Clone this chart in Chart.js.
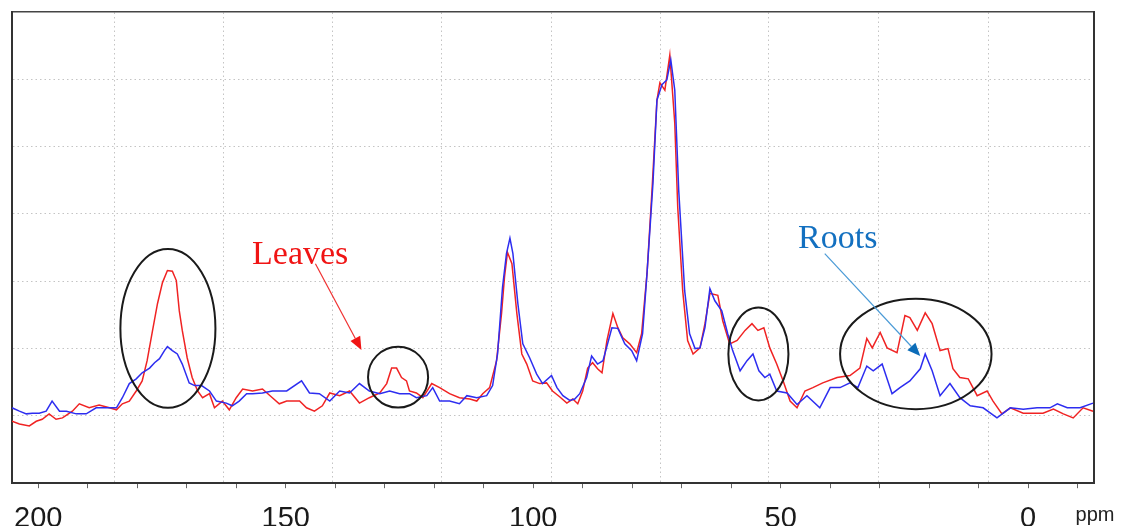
<!DOCTYPE html>
<html>
<head>
<meta charset="utf-8">
<script src="https://cdn.jsdelivr.net/npm/chart.js@4.4.0/dist/chart.umd.min.js"></script>
<style>
  html, body { margin: 0; padding: 0; background: #fff; overflow: hidden; }
  #wrap { width: 1121px; height: 549px; }
</style>
</head>
<body>
<div id="wrap"><canvas id="nmr"></canvas></div>
<script>
// 13C NMR spectra, chemical shift (ppm) and intensity
var leavesPpm = [
  205.3,203.8,201.8,200.4,199.2,197.8,196.4,195.1,193.1,191.7,
  189.7,187.7,185.6,184.2,183.0,181.6,180.2,179.0,178.0,176.9,
  175.9,174.9,173.9,172.9,172.1,171.5,170.9,169.9,168.9,167.8,
  166.8,165.4,164.4,162.8,161.4,160.0,158.7,156.7,154.7,152.7,
  151.3,149.8,147.2,145.8,144.2,142.6,141.1,139.1,137.1,135.1,
  133.1,131.0,129.6,128.6,127.6,126.6,125.6,125.0,123.6,122.3,
  120.5,118.9,116.9,114.9,112.8,111.4,110.2,108.8,107.4,106.4,
  105.8,105.2,104.3,103.3,102.3,101.3,100.1,98.7,97.3,96.1,
  94.6,93.2,92.0,91.0,90.0,89.0,88.0,87.0,86.1,85.1,
  83.9,82.9,81.9,80.5,79.1,78.1,77.0,76.0,75.0,74.4,
  73.4,72.4,71.4,70.8,69.8,68.8,67.7,66.3,65.3,64.3,
  62.7,61.7,60.3,58.8,57.2,55.8,54.6,53.4,52.2,50.8,
  49.5,48.1,46.7,45.1,43.5,41.5,38.6,36.0,34.0,32.6,
  31.5,29.9,28.5,26.5,24.9,23.9,22.4,20.8,19.4,17.8,
  16.2,15.2,13.8,12.1,10.3,8.3,7.1,5.3,3.6,1.0,
  -1.0,-3.0,-5.1,-7.1,-9.1,-11.1,-13.1
];
var leaves = [
  9.2,8.8,8.5,9.2,9.5,10.3,9.5,9.7,10.7,11.8,
  11.2,11.6,11.2,10.9,11.8,12.2,13.7,15.2,18.2,22.7,
  26.7,29.8,31.6,31.5,30.1,25.6,22.7,18.6,15.7,13.7,
  12.7,13.3,11.2,12.2,10.9,12.7,14.0,13.7,14.0,12.7,
  11.8,12.2,12.2,11.2,10.7,11.5,13.4,13.0,13.7,11.9,
  12.7,13.4,14.8,17.1,17.1,15.7,15.2,13.7,13.4,12.7,
  14.8,14.2,13.3,12.7,12.5,12.2,13.3,14.2,18.2,25.2,
  30.6,34.3,32.6,25.2,19.2,17.7,15.2,14.8,14.9,13.7,
  12.8,11.9,12.5,11.8,13.7,17.1,17.9,17.0,16.4,21.2,
  25.2,23.1,21.6,20.7,19.4,22.2,31.2,43.5,56.9,59.5,
  58.4,63.6,53.5,41.0,28.6,21.2,19.2,20.1,23.7,28.2,
  27.9,24.1,20.7,21.2,22.7,23.7,22.7,23.1,20.1,17.7,
  15.2,12.2,11.2,13.7,14.2,14.9,15.7,16.0,17.1,21.5,
  20.1,22.4,20.1,19.4,24.9,24.6,22.7,25.3,23.7,19.7,
  20.0,17.0,15.7,15.5,13.0,13.7,12.2,10.3,11.2,10.4,
  10.4,10.4,11.0,10.3,9.7,11.2,10.7
];

var rootsPpm = [
  205.3,203.8,202.4,201.2,199.8,198.4,197.2,195.7,194.3,192.3,
  190.3,188.3,186.2,184.2,183.0,181.6,180.2,179.0,177.5,176.5,
  175.5,174.5,173.9,172.9,171.9,170.9,169.5,168.4,167.0,165.4,
  164.0,162.0,160.8,159.4,157.9,156.7,154.7,152.7,149.8,146.8,
  145.2,143.2,141.1,139.1,137.1,135.1,133.1,131.0,129.0,127.0,
  125.0,123.6,121.5,120.3,118.9,116.9,114.9,113.4,111.4,109.4,
  108.2,107.2,106.2,105.4,104.7,104.1,103.1,102.1,100.7,99.3,
  98.1,96.3,95.2,94.0,92.6,91.6,90.6,89.2,88.2,87.0,
  85.9,84.1,82.9,81.5,80.1,79.1,77.9,77.0,75.8,75.0,
  74.0,73.0,72.2,71.4,70.6,69.4,68.4,67.3,66.3,65.3,
  64.3,63.3,61.9,60.7,59.7,58.2,56.8,55.6,54.4,53.2,
  52.2,50.8,48.7,46.7,44.7,42.1,40.0,38.0,36.0,34.4,
  32.6,31.3,29.5,27.5,25.9,23.9,21.8,20.8,19.4,17.8,
  15.8,13.8,11.7,9.1,6.3,3.6,1.0,-1.8,-4.4,-5.9,
  -7.9,-10.5,-13.1
];
var roots = [
  11.2,10.7,10.3,10.4,10.4,10.7,12.2,10.7,10.7,10.3,
  10.3,11.2,11.2,11.2,12.7,14.8,15.5,16.4,17.1,17.9,
  18.5,19.7,20.3,19.7,19.2,17.7,14.9,14.5,14.5,13.7,
  12.2,11.9,11.5,12.2,13.3,13.3,13.4,13.7,13.7,15.2,
  13.4,13.3,12.2,13.7,13.4,14.8,13.7,13.3,13.7,13.3,
  13.3,12.7,13.0,14.2,12.2,12.2,11.8,13.0,12.7,13.0,
  14.5,19.2,29.1,34.1,36.4,34.1,26.7,20.7,18.6,16.2,
  14.8,16.0,14.2,13.0,12.3,12.5,13.3,15.7,18.9,17.7,
  18.2,23.1,23.0,20.7,19.7,18.2,22.2,31.2,44.6,56.9,
  59.2,59.9,62.9,58.4,43.5,28.6,22.2,20.0,20.1,23.1,
  28.9,27.1,25.6,22.2,19.7,16.7,18.2,19.2,16.7,15.7,
  16.2,13.7,13.4,11.7,13.0,11.2,14.2,14.2,14.9,14.2,
  17.4,16.7,17.7,13.3,14.2,15.2,17.0,19.2,16.7,13.0,
  14.8,12.7,11.5,11.2,9.7,11.2,11.0,11.2,11.2,11.8,
  11.2,11.2,11.9
];

// axis ticks
var tickPpm = [200,190,180,170,160,150,140,130,120,110,100,90,80,70,60,50,40,30,20,10,0,-10];
var labelPpm = [200,150,100,50,0];
var gridPpm = [184.6,162.6,140.5,118.5,96.3,74.2,52.4,30.3,8.1];

// annotations: [ppm, intensity, radius ppm, radius intensity]
var rings = [[173.8,23.0,9.6,11.8],[127.3,15.75,6.07,4.52],[54.5,19.2,6.07,6.9],[22.7,19.2,15.3,8.2]];
var notes = [
  {text:'Leaves', at:[156.8,32.5], from:[144.0,32.6], to:[134.7,19.8], color:'#f01414', line:'#f03030', head:'#f01414'},
  {text:'Roots', at:[46.5,34.9], from:[41.1,34.1], to:[21.8,18.9], color:'#1370c0', line:'#4a9ad6', head:'#0b6cb8'}
];

function pts(xs, ys) { return xs.map(function (p, i) { return {x: p, y: ys[i]}; }); }

var annot = {
  id: 'annot',
  afterDatasetsDraw: function (chart) {
    var ctx = chart.ctx, x = chart.scales.x, y = chart.scales.y;
    ctx.save();
    ctx.strokeStyle = '#1a1a1a';
    ctx.lineWidth = 2;
    rings.forEach(function (r) {
      var cx = x.getPixelForValue(r[0]), cy = y.getPixelForValue(r[1]);
      var rx = Math.abs(x.getPixelForValue(r[0] + r[2]) - cx);
      var ry = Math.abs(y.getPixelForValue(r[1] + r[3]) - cy);
      ctx.beginPath();
      ctx.ellipse(cx, cy, rx, ry, 0, 0, Math.PI * 2);
      ctx.stroke();
    });
    notes.forEach(function (n) {
      var x1 = x.getPixelForValue(n.from[0]), y1 = y.getPixelForValue(n.from[1]);
      var x2 = x.getPixelForValue(n.to[0]), y2 = y.getPixelForValue(n.to[1]);
      var a = Math.atan2(y2 - y1, x2 - x1), hl = 13, hw = 5.5;
      ctx.strokeStyle = n.line;
      ctx.lineWidth = 1.2;
      ctx.beginPath();
      ctx.moveTo(x1, y1);
      ctx.lineTo(x2 - hl * Math.cos(a), y2 - hl * Math.sin(a));
      ctx.stroke();
      ctx.fillStyle = n.head;
      ctx.beginPath();
      ctx.moveTo(x2, y2);
      ctx.lineTo(x2 - hl * Math.cos(a) + hw * Math.sin(a), y2 - hl * Math.sin(a) - hw * Math.cos(a));
      ctx.lineTo(x2 - hl * Math.cos(a) - hw * Math.sin(a), y2 - hl * Math.sin(a) + hw * Math.cos(a));
      ctx.closePath();
      ctx.fill();
      ctx.fillStyle = n.color;
      ctx.font = '34px "Liberation Serif", serif';
      ctx.textAlign = 'left';
      ctx.textBaseline = 'alphabetic';
      ctx.fillText(n.text, x.getPixelForValue(n.at[0]), y.getPixelForValue(n.at[1]));
    });
    ctx.restore();
  },
  afterDraw: function (chart) {
    var ctx = chart.ctx;
    ctx.save();
    ctx.fillStyle = '#222';
    ctx.font = '20px "Liberation Sans", Arial, sans-serif';
    ctx.textAlign = 'center';
    ctx.textBaseline = 'alphabetic';
    ctx.fillText('ppm', chart.chartArea.right + 1, 521);
    ctx.restore();
  }
};

var ctx = document.getElementById('nmr').getContext('2d');
var nmrChart = new Chart(ctx, {
  type: 'line',
  data: {
    datasets: [{
      label: 'Roots',
      data: pts(rootsPpm, roots),
      borderColor: 'rgb(45,45,240)',
      borderWidth: 1.5,
      pointRadius: 0,
      tension: 0,
      fill: false
    },
    {
      label: 'Leaves',
      data: pts(leavesPpm, leaves),
      borderColor: 'rgb(240,35,35)',
      borderWidth: 1.5,
      pointRadius: 0,
      tension: 0,
      fill: false
    }]
  },
  options: {
    responsive: true,
    maintainAspectRatio: false,
    animation: false,
    layout: { padding: { left: 12, top: 12, right: 27, bottom: 0 } },
    plugins: {
      legend: { display: false },
      tooltip: { enabled: false }
    },
    scales: {
      x: {
        type: 'linear',
        position: 'bottom',
        reverse: true,
        min: -13.3,
        max: 205.3,
        afterBuildTicks: function (axis) { axis.ticks = tickPpm.map(function (v) { return {value: v}; }); },
        ticks: {
          autoSkip: false,
          maxRotation: 0,
          padding: 13,
          color: '#1a1a1a',
          font: { family: 'Liberation Sans', size: 29 },
          callback: function (v) { return labelPpm.indexOf(v) >= 0 ? String(v) : ''; }
        },
        grid: { drawOnChartArea: false, drawTicks: true, tickLength: 5, tickColor: '#666', tickWidth: 1 },
        border: { display: true, color: '#333', width: 2 }
      },
      xg: {
        type: 'linear',
        position: 'top',
        reverse: true,
        min: -13.3,
        max: 205.3,
        afterBuildTicks: function (axis) { axis.ticks = gridPpm.map(function (v) { return {value: v}; }); },
        ticks: { display: false },
        grid: { drawTicks: false, color: '#c4c4c4', lineWidth: 1 },
        border: { display: true, color: '#444', width: 1.5, dash: [1.5, 3] }
      },
      y: {
        position: 'left',
        min: 0,
        max: 70,
        ticks: { display: false, stepSize: 10 },
        grid: {
          drawTicks: false,
          lineWidth: 1,
          color: function (c) { return (c.tick && (c.tick.value === 0 || c.tick.value === 70)) ? 'rgba(0,0,0,0)' : '#c4c4c4'; }
        },
        border: { display: true, color: '#333', width: 2, dash: [1.5, 3] }
      },
      y2: {
        position: 'right',
        min: 0,
        max: 70,
        ticks: { display: false },
        grid: { drawOnChartArea: false, drawTicks: false },
        border: { display: true, color: '#333', width: 2 }
      }
    }
  },
  plugins: [annot]
});
</script>
</body>
</html>
